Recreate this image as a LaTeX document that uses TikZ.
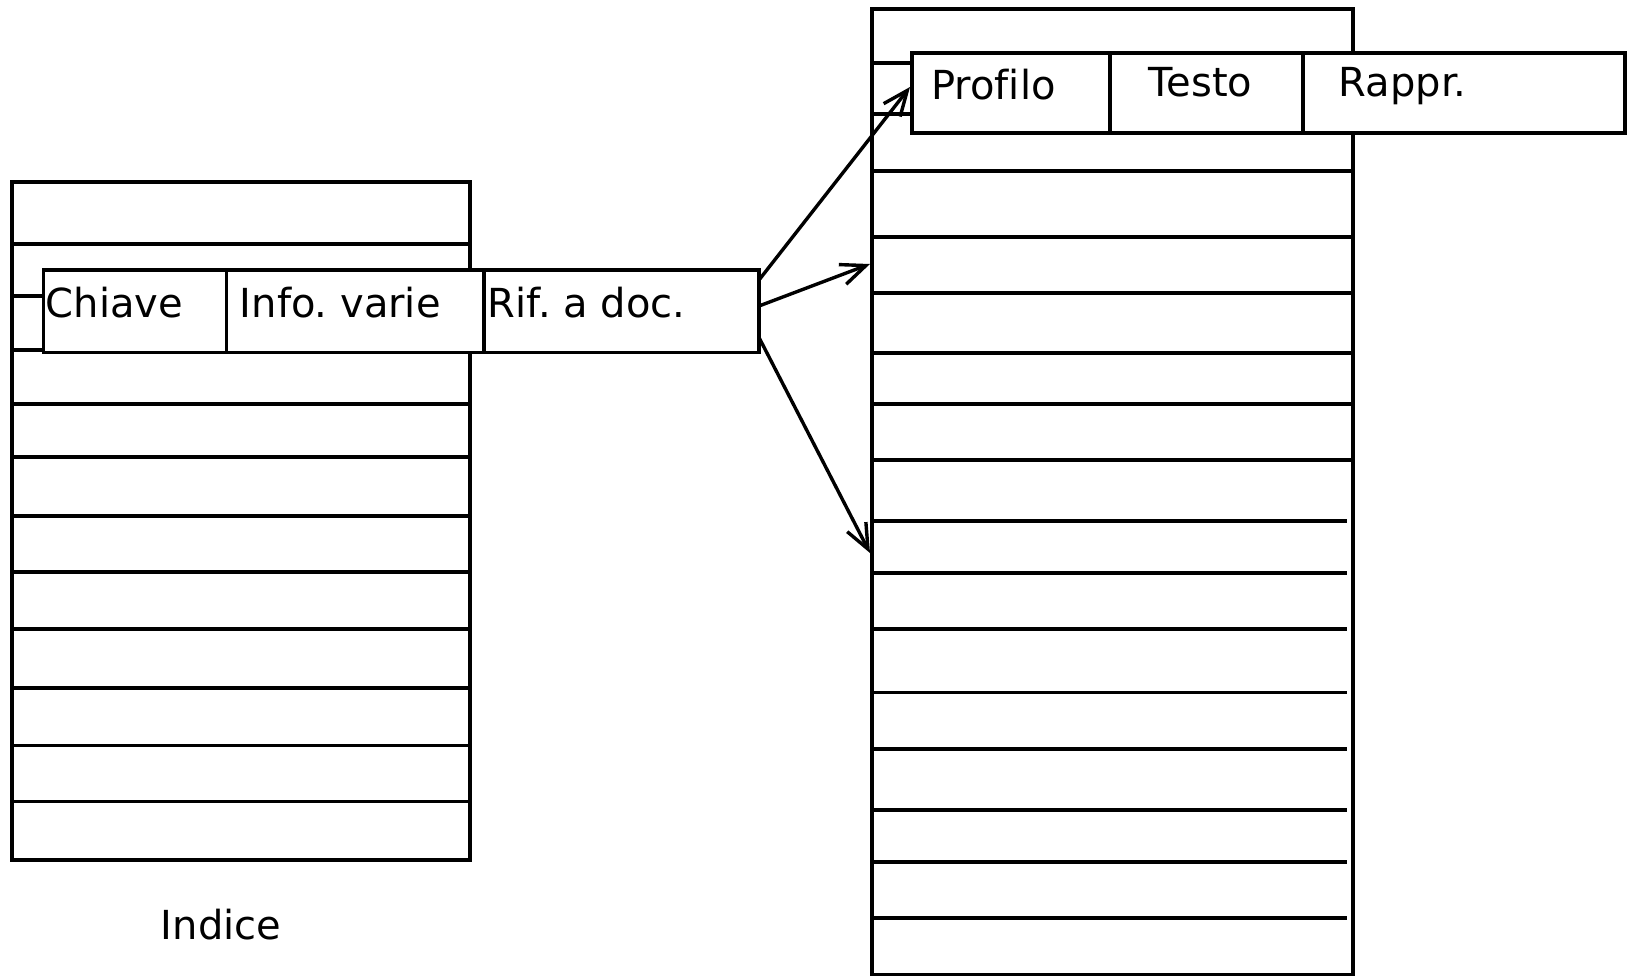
\documentclass[tikz,border=0pt]{standalone}
\usepackage{fontspec}
\setmainfont[Ligatures=CommonOff]{DejaVu Sans}
\usetikzlibrary{arrows.meta}
\frenchspacing
\begin{document}
\begin{tikzpicture}[x=1pt,y=-1pt,line width=3.8pt,
  frame/.style={draw,rectangle,inner sep=0pt,outer sep=0pt},
  cell/.style={draw,fill=white,rectangle,inner sep=0pt,outer sep=0pt},
  lbl/.style={anchor=base west,inner sep=0pt,font=\fontsize{40pt}{48pt}\selectfont},
  link/.style={-{Straight Barb[length=25pt,width=21pt]},line width=3.4pt}]
\useasboundingbox (0,0) rectangle (1628,975);
% index table
\node[frame,minimum width=458pt,minimum height=678pt] (indextab) at (241,521) {};
\foreach \y in {244,404,457,516,572,629,688,745.5,801.5}
  \draw (12,\y) -- (468,\y);
\foreach \y in {296,350}
  \draw (12,\y) -- (43.5,\y);
% document table
\node[frame,minimum width=481pt,minimum height=966pt] (doctab) at (1112.5,492) {};
\foreach \y in {171.3,236.7,292.8,353,403.9,460}
  \draw (872,\y) -- (1351,\y);
\foreach \y in {521.2,573.1,629.2,692.5,748.6,809.9,861.8,917.9}
  \draw (870,\y) -- (1347,\y);
\foreach \y in {63.3,114.2}
  \draw (872,\y) -- (911.6,\y);
% index record
\node[cell,minimum width=183pt,minimum height=82.5pt] (chiave) at (135,311.25) {};
\node[cell,minimum width=257.5pt,minimum height=82.5pt] (info) at (355.25,311.25) {};
\node[cell,minimum width=275pt,minimum height=82.5pt] (rif) at (621.5,311.25) {};
\node[lbl] (tchiave) at (44,317) {Chiave};
\node[lbl] (tinfo) at (238,317) {Info. varie};
\node[lbl] (trif) at (486,317) {Rif. a doc.};
% document record
\node[cell,minimum width=198.4pt,minimum height=80pt] (profilo) at (1010.8,93) {};
\node[cell,minimum width=193pt,minimum height=80pt] (testo) at (1206.5,93) {};
\node[cell,minimum width=322pt,minimum height=80pt] (rappr) at (1464,93) {};
\node[lbl] (tprofilo) at (929.5,99) {Profilo};
\node[lbl] (ttesto) at (1147,96.7) {Testo};
\node[lbl] (trappr) at (1337,96.7) {Rappr.};
% caption
\node[lbl] (indice) at (159,939) {Indice};
% arrows
\coordinate (s1) at (759,280);
\coordinate (s2) at (759,306);
\coordinate (s3) at (759,337.5);
\coordinate (e1) at (910,87);
\coordinate (e2) at (870,264);
\coordinate (e3) at (870,553);
\draw[link] (s1) -- (e1);
\draw[link] (s2) -- (e2);
\draw[link] (s3) -- (e3);
\end{tikzpicture}
\end{document}
